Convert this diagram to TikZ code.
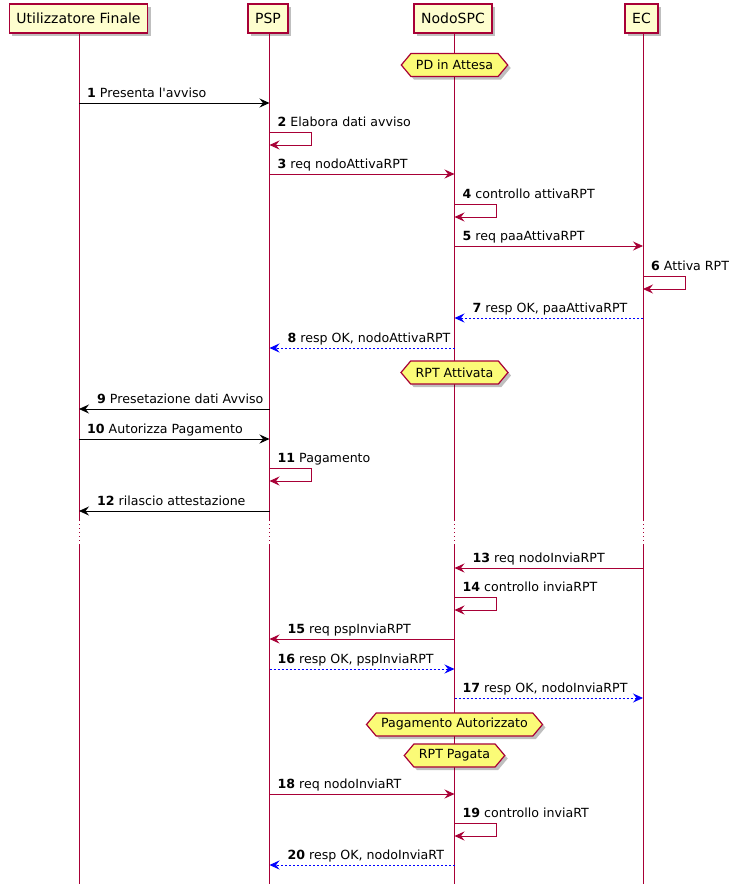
\documentclass[tikz,border=0pt]{standalone}
\usepackage{fontspec}
\setmainfont{DejaVu Sans}[Ligatures=TeXOff]
\usetikzlibrary{arrows.meta,shapes.symbols,shadows}
\definecolor{crim}{HTML}{A80036}
\definecolor{pfill}{HTML}{FEFECE}
\definecolor{hfill}{HTML}{FBFB77}
\definecolor{rblue}{HTML}{0000FF}
\tikzset{
 shad/.style={drop shadow={shadow xshift=3pt,shadow yshift=-3pt,opacity=0.25,fill=black}},
 part/.style={draw=crim, line width=1.5pt, fill=pfill, minimum height=29pt, inner xsep=7pt, inner ysep=0pt, font=\fontsize{14}{16}\selectfont, shad},
 life/.style={draw=crim, line width=0.8pt},
 lifedot/.style={draw=crim, line width=0.8pt, dash pattern=on 1pt off 3pt},
 hexn/.style={signal, signal to=east and west, signal pointer angle=100, draw=crim, line width=1.2pt, fill=hfill, minimum height=23pt, inner xsep=5pt, inner ysep=0pt, font=\fontsize{12.6}{15}\selectfont, shad},
 tip/.style={-{Stealth[length=10pt,width=9pt,inset=3.5pt]}},
 msgk/.style={tip, draw=black, line width=0.8pt},
 msgc/.style={tip, draw=crim, line width=0.8pt},
 msgb/.style={tip, draw=rblue, dash pattern=on 2pt off 2pt, line width=0.8pt},
 lbl/.style={anchor=base west, inner sep=0pt, font=\fontsize{12.6}{15}\selectfont},
}
\begin{document}
\begin{tikzpicture}[x=1pt,y=-1pt]
\useasboundingbox (0,0) rectangle (738,894);
% participants
\node[part] (pU) at (78.5,18.5) {Utilizzatore Finale};
\node[part] (pP) at (268,18.5) {PSP};
\node[part] (pN) at (453,18.5) {NodoSPC};
\node[part] (pE) at (641.5,18.5) {EC};
% lifeline coordinates
\foreach \nm/\x in {U/79,P/269.5,N/454.5,E/643}{
  \coordinate (\nm top) at (\x,34);
  \coordinate (\nm da) at (\x,520);
  \coordinate (\nm db) at (\x,545);
  \coordinate (\nm bot) at (\x,884);
}
\foreach \nm in {U,P,N,E}{
  \draw[life] (\nm top) -- (\nm da);
  \draw[lifedot] (\nm da) -- (\nm db);
  \draw[life] (\nm db) -- (\nm bot);
}
% message coordinates
\foreach \n/\y in {1/103,2/132,3/174,4/204,5/246,6/276,7/318,8/348,9/409,10/439,11/468,12/511,13/568,14/597,15/639,16/669,17/698,18/794,19/823,20/865}{
  \coordinate (U\n) at (79,\y);
  \coordinate (P\n) at (269.5,\y);
  \coordinate (N\n) at (454.5,\y);
  \coordinate (E\n) at (643,\y);
  \coordinate (P\n r) at (311.5,\y);
  \coordinate (N\n r) at (496.5,\y);
  \coordinate (E\n r) at (685,\y);
  \coordinate (P\n b) at (269.5,\y+13);
  \coordinate (N\n b) at (454.5,\y+13);
  \coordinate (E\n b) at (643,\y+13);
  \coordinate (P\n rb) at (311.5,\y+13);
  \coordinate (N\n rb) at (496.5,\y+13);
  \coordinate (E\n rb) at (685,\y+13);
}
% notes
\node[hexn] (h1) at (454.5,65) {PD in Attesa};
\node[hexn] (h2) at (454.5,372.5) {RPT Attivata};
\node[hexn] (h3) at (454.5,724.5) {Pagamento Autorizzato};
\node[hexn] (h4) at (454.5,755.5) {RPT Pagata};
% messages
\draw[msgk] (U1) -- (P1);
\node[lbl] (l1) at (87,97.5) {\textbf{1} Presenta l'avviso};
\draw[msgc] (P2) -- (P2r) -- (P2rb) -- (P2b);
\node[lbl] (l2) at (277.5,126.5) {\textbf{2} Elabora dati avviso};
\draw[msgc] (P3) -- (N3);
\node[lbl] (l3) at (277.5,168.5) {\textbf{3} req nodoAttivaRPT};
\draw[msgc] (N4) -- (N4r) -- (N4rb) -- (N4b);
\node[lbl] (l4) at (462.5,198.5) {\textbf{4} controllo attivaRPT};
\draw[msgc] (N5) -- (E5);
\node[lbl] (l5) at (462.5,240.5) {\textbf{5} req paaAttivaRPT};
\draw[msgc] (E6) -- (E6r) -- (E6rb) -- (E6b);
\node[lbl] (l6) at (651,270.5) {\textbf{6} Attiva RPT};
\draw[msgb] (E7) -- (N7);
\node[lbl] (l7) at (472.5,312.5) {\textbf{7} resp OK, paaAttivaRPT};
\draw[msgb] (N8) -- (P8);
\node[lbl] (l8) at (287.5,342.5) {\textbf{8} resp OK, nodoAttivaRPT};
\draw[msgk] (P9) -- (U9);
\node[lbl] (l9) at (97,403.5) {\textbf{9} Presetazione dati Avviso};
\draw[msgk] (U10) -- (P10);
\node[lbl] (l10) at (87,433.5) {\textbf{10} Autorizza Pagamento};
\draw[msgc] (P11) -- (P11r) -- (P11rb) -- (P11b);
\node[lbl] (l11) at (277.5,462.5) {\textbf{11} Pagamento};
\draw[msgk] (P12) -- (U12);
\node[lbl] (l12) at (97,505.5) {\textbf{12} rilascio attestazione};
\draw[msgc] (E13) -- (N13);
\node[lbl] (l13) at (472.5,562.5) {\textbf{13} req nodoInviaRPT};
\draw[msgc] (N14) -- (N14r) -- (N14rb) -- (N14b);
\node[lbl] (l14) at (462.5,591.5) {\textbf{14} controllo inviaRPT};
\draw[msgc] (N15) -- (P15);
\node[lbl] (l15) at (287.5,633.5) {\textbf{15} req pspInviaRPT};
\draw[msgb] (P16) -- (N16);
\node[lbl] (l16) at (277.5,663.5) {\textbf{16} resp OK, pspInviaRPT};
\draw[msgb] (N17) -- (E17);
\node[lbl] (l17) at (462.5,692.5) {\textbf{17} resp OK, nodoInviaRPT};
\draw[msgc] (P18) -- (N18);
\node[lbl] (l18) at (277.5,788.5) {\textbf{18} req nodoInviaRT};
\draw[msgc] (N19) -- (N19r) -- (N19rb) -- (N19b);
\node[lbl] (l19) at (462.5,817.5) {\textbf{19} controllo inviaRT};
\draw[msgb] (N20) -- (P20);
\node[lbl] (l20) at (287.5,859.5) {\textbf{20} resp OK, nodoInviaRT};
\end{tikzpicture}
\end{document}
